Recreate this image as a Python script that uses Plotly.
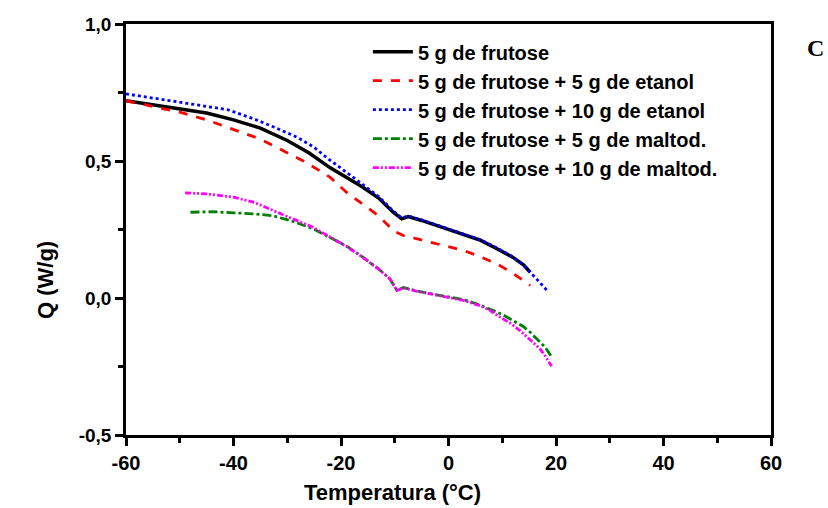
import plotly.graph_objects as go

# ---- data ----
names = ["5 g de frutose", "5 g de frutose + 5 g de etanol", "5 g de frutose + 10 g de etanol",
         "5 g de frutose + 5 g de maltod.", "5 g de frutose + 10 g de maltod."]

t_black = [-60,-55,-50,-45,-40,-35,-30,-26,-22,-19,-16,-13,-10.3,-8.7,-7.5,-5,-3,0,3,6,9,12,14,15.2]
q_black = [0.72,0.705,0.69,0.675,0.65,0.62,0.575,0.53,0.475,0.44,0.405,0.365,0.313,0.289,0.297,0.283,0.27,0.25,0.232,0.21,0.18,0.148,0.12,0.094]

t_red = [-60,-55,-50,-45,-40,-35,-31,-27,-24,-22,-19,-16,-13,-10.3,-8.4,-6,-3.4,0,3,6,9,12,14,15.2]
q_red = [0.72,0.70,0.678,0.65,0.614,0.58,0.54,0.50,0.465,0.44,0.386,0.344,0.30,0.246,0.228,0.217,0.204,0.187,0.172,0.15,0.125,0.09,0.063,0.046]

t_blue = [-60,-55,-50,-45,-41,-36,-32,-28,-25,-22.5,-19,-16,-13,-10.3,-8.7,-7.5,-5,-3,0,3,6,9,12,14,16,18.5]
q_blue = [0.745,0.73,0.715,0.70,0.687,0.652,0.62,0.585,0.55,0.51,0.46,0.415,0.37,0.318,0.292,0.299,0.285,0.272,0.252,0.234,0.212,0.183,0.15,0.12,0.076,0.024]

t_green = [-48,-44,-40,-36,-32.6,-29,-25.2,-22,-19,-16,-13,-10.9,-9.6,-8.4,-6,-3.4,0,2.8,5.9,8,10.2,12,13.9,15.2,16.4,18,19.2]
q_green = [0.313,0.315,0.311,0.307,0.300,0.28,0.253,0.222,0.19,0.15,0.106,0.07,0.028,0.038,0.026,0.016,0.004,-0.006,-0.026,-0.044,-0.062,-0.082,-0.104,-0.125,-0.148,-0.18,-0.216]

t_mag = [-49,-45,-40,-36,-32.6,-29,-25.2,-22,-19,-16,-13,-10.9,-9.6,-8.4,-6,-3.4,0,2.8,5.9,7.7,9.6,11.5,13.3,15,17,18,19.2]
q_mag = [0.384,0.38,0.368,0.348,0.319,0.29,0.258,0.222,0.188,0.149,0.105,0.07,0.027,0.037,0.025,0.015,0.003,-0.009,-0.028,-0.045,-0.07,-0.092,-0.119,-0.148,-0.185,-0.212,-0.249]

x_ticks = [-60, -40, -20, 0, 20, 40, 60]
y_ticks = [-0.5, 0.0, 0.5, 1.0]
y_ticktext = ["-0,5", "0,0", "0,5", "1,0"]

series = [
    (t_black, q_black, "black", "solid", 3.5),
    (t_red, q_red, "#ff0000", "dash", 2.8),
    (t_blue, q_blue, "#0000ff", "dot", 2.8),
    (t_green, q_green, "#008000", "dashdot", 2.8),
    (t_mag, q_mag, "#ff00ff", "6px,2px,2px,2px,2px,2px", 2.8),
]

fig = go.Figure()
for (t, q, c, d, w), n in zip(series, names):
    fig.add_trace(go.Scatter(x=t, y=q, mode="lines", name=n,
                             line=dict(color=c, dash=d, width=w)))

L, R, T, B = 126, 57, 24, 73
W, H = 828, 508
pw, ph = W - L - R, H - T - B

tick_font = dict(family="Liberation Sans", size=20, color="black", weight="bold")
title_font = dict(family="Liberation Sans", size=22, color="black", weight="bold")
fig.update_layout(
    width=W, height=H,
    margin=dict(l=L, r=R, t=T, b=B),
    paper_bgcolor="white", plot_bgcolor="white",
    font=dict(family="Liberation Sans", color="black"),
    showlegend=True,
    legend=dict(x=0.375, y=0.98, xanchor="left", yanchor="top",
                bgcolor="rgba(0,0,0,0)", borderwidth=0,
                font=dict(family="Liberation Sans", size=20, color="black", weight="bold"),
                tracegroupgap=0, itemwidth=40),
)
fig.update_xaxes(
    range=[-60, 60], tickvals=x_ticks, ticktext=[str(v) for v in x_ticks],
    showgrid=False, zeroline=False, showline=True, linecolor="black", linewidth=2.5,
    mirror=True, ticks="outside", ticklen=8, tickwidth=2.5, tickcolor="black",
    tickfont=tick_font, automargin=False,
    minor=dict(dtick=10, ticks="outside", ticklen=5, tickwidth=2.5, tickcolor="black", showgrid=False),
)
fig.update_yaxes(
    range=[-0.5, 1.0], tickvals=y_ticks, ticktext=y_ticktext,
    showgrid=False, zeroline=False, showline=True, linecolor="black", linewidth=2.5,
    mirror=True, ticks="outside", ticklen=8, tickwidth=2.5, tickcolor="black",
    tickfont=dict(family="Liberation Sans", size=19, color="black", weight="bold"), automargin=False,
    minor=dict(dtick=0.25, ticks="outside", ticklen=5, tickwidth=2.5, tickcolor="black", showgrid=False),
)
# axis titles (positioned as in the original figure)
fig.add_annotation(x=(392 - L) / pw, y=(H - B - 492) / ph, xref="paper", yref="paper",
                   xanchor="center", yanchor="middle",
                   text="Temperatura (°C)", showarrow=False, font=title_font)
fig.add_annotation(x=(45 - L) / pw, y=(H - B - 280) / ph, xref="paper", yref="paper",
                   xanchor="center", yanchor="middle",
                   text="Q (W/g)", textangle=-90, showarrow=False, font=title_font)
fig.add_annotation(x=(816 - L) / pw, y=(H - B - 48) / ph, xref="paper", yref="paper",
                   xanchor="center", yanchor="middle",
                   text="C", showarrow=False,
                   font=dict(family="Liberation Serif", size=24, color="black", weight="bold"))

fig.write_html("out.html")
